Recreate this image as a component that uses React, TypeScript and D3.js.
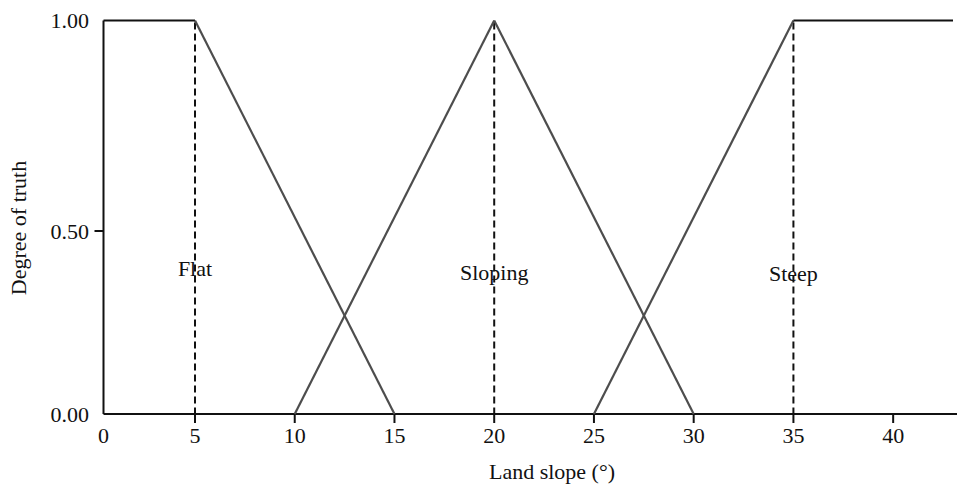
import React from 'react';
import * as d3 from 'd3';

// membership functions for land slope (degrees -> degree of truth)
const flat: [number, number][] = [[0, 1], [5, 1], [15, 0]];
const sloping: [number, number][] = [[10, 0], [20, 1], [30, 0]];
const steep: [number, number][] = [[25, 0], [35, 1], [43, 1]];

const classNames = ['Flat', 'Sloping', 'Steep'];
const classPeaks = [5, 20, 35];

const xTicks = [0, 5, 10, 15, 20, 25, 30, 35, 40];
const yTicks = [0, 0.5, 1];

const W = 957;
const H = 486;
const FONT = '"Liberation Serif", "Times New Roman", serif';

const App = () => {
  // the original drawing is slightly uneven, so the scales are piecewise
  const x = d3.scaleLinear().domain([0, 5, 43]).range([103.5, 195, 953]);
  const y = d3.scaleLinear().domain([0, 0.5, 1]).range([414, 231, 20.5]);

  const series = [flat, sloping, steep];

  // split every function into segments so flat parts and ramps can differ
  const segments = series.flatMap(s =>
    d3.pairs(s).map(([a, b]) => ({ a, b, ramp: a[1] !== b[1] }))
  );

  const line = d3.line<[number, number]>()
    .x(d => x(d[0]))
    .y(d => y(d[1]));

  return (
    <svg
      width={W}
      height={H}
      style={{ position: 'absolute', left: 0, top: 0, background: '#fff' }}
      fontFamily={FONT}
    >
      {/* axes */}
      <line x1={x(0)} x2={W} y1={y(0)} y2={y(0)} stroke="#111" strokeWidth={2} />
      <line x1={x(0)} x2={x(0)} y1={y(0)} y2={y(1)} stroke="#111" strokeWidth={2} />

      {xTicks.map(t => (
        <g key={'x' + t} transform={`translate(${x(t)},0)`}>
          {t > 0 && <line y1={y(0)} y2={y(0) + 9} stroke="#111" strokeWidth={2} />}
          <text y={443} textAnchor="middle" fontSize={22} fill="#111">{t}</text>
        </g>
      ))}

      {yTicks.map(t => (
        <g key={'y' + t} transform={`translate(0,${y(t)})`}>
          {t > 0 && t < 1 && <line x1={x(0) - 9} x2={x(0)} stroke="#111" strokeWidth={2} />}
          <text x={89} y={7.5} textAnchor="end" fontSize={22} fill="#111">
            {d3.format('.2f')(t)}
          </text>
        </g>
      ))}

      <text x={552} y={479} textAnchor="middle" fontSize={22} fill="#111">Land slope (°)</text>
      <text
        transform="translate(26,228) rotate(-90)"
        textAnchor="middle"
        fontSize={22}
        fill="#111"
      >
        Degree of truth
      </text>

      {/* dashed lines under each peak */}
      {classPeaks.map(p => (
        <line
          key={'d' + p}
          x1={x(p)}
          x2={x(p)}
          y1={y(1) + 2}
          y2={y(0)}
          stroke="#111"
          strokeWidth={2}
          strokeDasharray="7,4"
        />
      ))}

      {/* membership functions */}
      {segments.map((s, i) => (
        <path
          key={'s' + i}
          d={line([s.a, s.b]) ?? ''}
          fill="none"
          stroke={s.ramp ? '#4d4d4d' : '#111'}
          strokeWidth={s.ramp ? 2.2 : 2}
        />
      ))}

      {/* class labels */}
      {classNames.map((name, i) => (
        <text
          key={name}
          x={x(classPeaks[i])}
          y={[276, 280, 281][i]}
          textAnchor="middle"
          fontSize={22}
          fill="#111"
        >
          {name}
        </text>
      ))}
    </svg>
  );
};

export default App;
